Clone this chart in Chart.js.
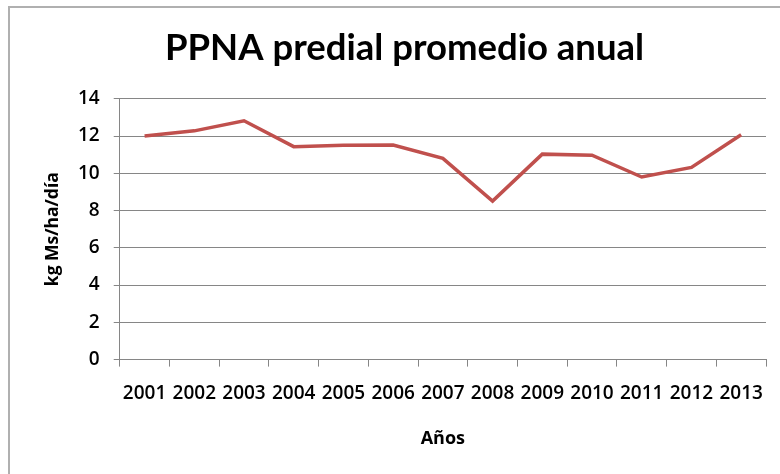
<!DOCTYPE html>
<html>
<head>
<meta charset="utf-8">
<script src="https://cdn.jsdelivr.net/npm/chart.js@4"></script>
<style>
  html, body { margin: 0; padding: 0; background: #fff; }
  #wrap { position: relative; width: 780px; height: 474px; }
  #frame { position: absolute; left: 8px; top: 6px; right: -4px; bottom: -4px; border-left: 2px solid #b0b0b0; border-top: 2px solid #b0b0b0; pointer-events: none; }
  canvas { position: absolute; left: 0; top: 0; }
</style>
</head>
<body>
<div id="wrap">
  <canvas id="c" width="780" height="474"></canvas>
  <div id="frame"></div>
</div>
<script>
const years = ["2001","2002","2003","2004","2005","2006","2007","2008","2009","2010","2011","2012","2013"];
const ppna = [12.0, 12.28, 12.82, 11.43, 11.5, 11.52, 10.8, 8.51, 11.03, 10.97, 9.8, 10.32, 12.07];
const titleText = "PPNA predial promedio anual";
const yTitle = "kg Ms/ha/día";
const xTitle = "Años";

const TITLE_FONT = "Lato";
const FONT = "Open Sans";
const axisGrey = "#868686";

new Chart(document.getElementById("c"), {
  type: "line",
  data: {
    labels: years,
    datasets: [{
      data: ppna,
      borderColor: "#c0504d",
      borderWidth: 3.5,
      pointRadius: 0,
      pointHoverRadius: 0,
      tension: 0,
      fill: false
    }]
  },
  options: {
    responsive: false,
    animation: false,
    devicePixelRatio: 1,
    layout: { padding: { left: 43, right: 14, top: 0, bottom: 24 } },
    plugins: {
      legend: { display: false },
      tooltip: { enabled: false },
      title: {
        display: true,
        text: titleText,
        color: "#000",
        font: { family: TITLE_FONT, size: 36.5, weight: "bold" },
        padding: { top: 26, bottom: 29 }
      }
    },
    scales: {
      x: {
        offset: true,
        grid: { offset: true, drawOnChartArea: false, tickLength: 7, color: axisGrey, lineWidth: 1 },
        border: { color: axisGrey, width: 1 },
        ticks: { color: "#000", font: { family: FONT, size: 19, weight: "600" }, padding: 16, maxRotation: 0, autoSkip: false },
        title: { display: true, text: xTitle, color: "#000", font: { family: FONT, size: 18, weight: "bold" }, padding: { top: 7, bottom: 0 } }
      },
      y: {
        min: 0,
        max: 14,
        ticks: { stepSize: 2, color: "#000", font: { family: FONT, size: 19, weight: "600" }, padding: 14 },
        grid: { color: axisGrey, tickLength: 6, lineWidth: 1 },
        border: { color: axisGrey, width: 1 },
        title: { display: true, text: yTitle, color: "#000", font: { family: FONT, size: 17.5, weight: "bold" }, padding: { top: 0, bottom: 0 } }
      }
    }
  }
});
</script>
</body>
</html>
